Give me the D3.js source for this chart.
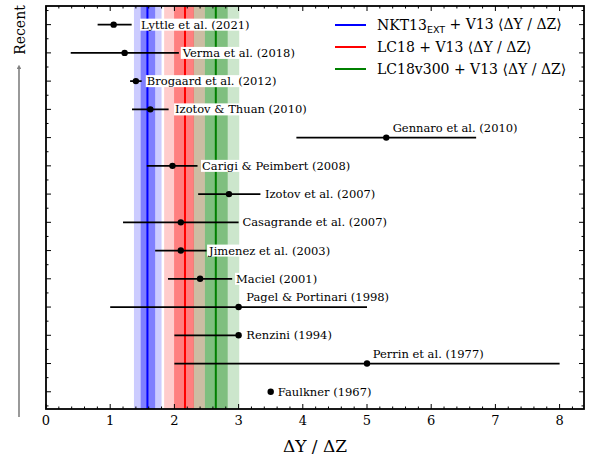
<!DOCTYPE html>
<html>
<head>
<meta charset="utf-8">
<script src="https://cdn.jsdelivr.net/npm/d3@7"></script>
<style>
  html, body { margin: 0; padding: 0; background: #fff; }
  svg { display: block; font-family: "DejaVu Serif", serif; }
</style>
</head>
<body>
<svg id="chart" width="596" height="463"></svg>
<script>
// Helium-to-metal enrichment ratio estimates, oldest (bottom) to most recent (top)
const studies = [
  "Faulkner (1967)", "Perrin et al. (1977)", "Renzini (1994)",
  "Pagel & Portinari (1998)", "Maciel (2001)", "Jimenez et al. (2003)",
  "Casagrande et al. (2007)", "Izotov et al. (2007)", "Carigi & Peimbert (2008)",
  "Gennaro et al. (2010)", "Izotov & Thuan (2010)", "Brogaard et al. (2012)",
  "Verma et al. (2018)", "Lyttle et al. (2021)"
];
const dydz     = [3.5, 5.0, 3.0, 3.0, 2.4, 2.1, 2.1, 2.85, 1.97, 5.3, 1.625, 1.4, 1.225, 1.054];
const errLow   = [0,   3.0, 1.0, 2.0, 0.5, 0.4, 0.9, 0.48, 0.40, 1.4, 0.285, 0.09, 0.84, 0.25];
const errHigh  = [0,   3.0, 0.0, 2.0, 0.5, 0.4, 0.9, 0.49, 0.39, 1.4, 0.285, 0.09, 0.845, 0.28];
// annotation anchor (ΔY/ΔZ units) and whether the note sits above the bar
const labelX     = [3.61, 5.09, 3.12, 3.12, 2.96, 2.54, 3.06, 3.41, 2.43, 5.40, 2.01, 1.57, 2.13, 1.48];
const labelAbove = [false, true, false, true, false, false, false, false, false, true, false, false, false, false];

// Model predictions: mean with 1σ and 2σ intervals
const models     = ["NKT13", "LC18", "LC18v300"];
const modelMean  = [1.58, 2.165, 2.645];
const model1Lo   = [1.475, 1.995, 2.475];
const model1Hi   = [1.70, 2.305, 2.83];
const model2Lo   = [1.37, 1.84, 2.30];
const model2Hi   = [1.80, 2.475, 3.01];
const modelColor = ["#0000ff", "#ff0000", "#008000"];

const xTicks = [0, 1, 2, 3, 4, 5, 6, 7, 8];

const svg = d3.select("#chart");
const box = { left: 46, right: 584, top: 6, bottom: 409 };

const x = d3.scaleLinear().domain([0, 8.38]).range([box.left, box.right]);
const y = d3.scaleLinear().domain([-0.61, 13.66]).range([box.bottom, box.top]);

// shaded intervals
const bands = svg.append("g");
models.forEach((m, i) => {
  bands.append("rect")
    .attr("x", x(model2Lo[i])).attr("width", x(model2Hi[i]) - x(model2Lo[i]))
    .attr("y", box.top).attr("height", box.bottom - box.top)
    .attr("fill", modelColor[i]).attr("fill-opacity", 0.2);
  bands.append("rect")
    .attr("x", x(model1Lo[i])).attr("width", x(model1Hi[i]) - x(model1Lo[i]))
    .attr("y", box.top).attr("height", box.bottom - box.top)
    .attr("fill", modelColor[i]).attr("fill-opacity", 0.375);
});
models.forEach((m, i) => {
  bands.append("line")
    .attr("x1", x(modelMean[i])).attr("x2", x(modelMean[i]))
    .attr("y1", box.top).attr("y2", box.bottom)
    .attr("stroke", modelColor[i]).attr("stroke-width", 2);
});

// error bars and points
const idx = d3.range(studies.length);
const pts = svg.append("g");
pts.selectAll("line.err").data(idx.filter(i => errLow[i] + errHigh[i] > 0)).join("line")
  .attr("class", "err")
  .attr("x1", i => x(dydz[i] - errLow[i])).attr("x2", i => x(dydz[i] + errHigh[i]))
  .attr("y1", i => y(i)).attr("y2", i => y(i))
  .attr("stroke", "#000").attr("stroke-width", 1.8);
pts.selectAll("circle").data(idx).join("circle")
  .attr("cx", i => x(dydz[i])).attr("cy", i => y(i)).attr("r", 3.2)
  .attr("fill", "#000");

// study notes with white backing
const notes = svg.append("g").attr("font-size", 11.5);
idx.forEach(i => {
  const g = notes.append("g");
  const ty = labelAbove[i] ? y(i + 0.35) : y(i);
  const t = g.append("text")
    .attr("x", x(labelX[i])).attr("y", ty)
    .attr("dy", "0.35em").attr("fill", "#000")
    .text(studies[i]);
  const bb = t.node().getBBox();
  g.insert("rect", "text")
    .attr("x", bb.x - 1).attr("y", bb.y + 1)
    .attr("width", bb.width + 2).attr("height", bb.height - 2)
    .attr("fill", "#fff");
});

// ticks (inward on all four sides)
const ticks = svg.append("g").attr("stroke", "#000").attr("stroke-width", 1);
const xMinor = d3.range(0, 8.39, 0.2).filter(v => Math.abs(v - Math.round(v)) > 1e-6);
xTicks.forEach(v => {
  ticks.append("line").attr("x1", x(v)).attr("x2", x(v)).attr("y1", box.bottom).attr("y2", box.bottom - 5);
  ticks.append("line").attr("x1", x(v)).attr("x2", x(v)).attr("y1", box.top).attr("y2", box.top + 5);
});
xMinor.forEach(v => {
  ticks.append("line").attr("x1", x(v)).attr("x2", x(v)).attr("y1", box.bottom).attr("y2", box.bottom - 2.5);
  ticks.append("line").attr("x1", x(v)).attr("x2", x(v)).attr("y1", box.top).attr("y2", box.top + 2.5);
});
idx.forEach(i => {
  ticks.append("line").attr("x1", box.left).attr("x2", box.left + 5).attr("y1", y(i)).attr("y2", y(i));
  ticks.append("line").attr("x1", box.right).attr("x2", box.right - 5).attr("y1", y(i)).attr("y2", y(i));
});
d3.range(-0.5, 13.6, 1).forEach(v => {
  ticks.append("line").attr("x1", box.left).attr("x2", box.left + 2.5).attr("y1", y(v)).attr("y2", y(v));
  ticks.append("line").attr("x1", box.right).attr("x2", box.right - 2.5).attr("y1", y(v)).attr("y2", y(v));
});

// frame
svg.append("rect")
  .attr("x", box.left).attr("y", box.top)
  .attr("width", box.right - box.left).attr("height", box.bottom - box.top)
  .attr("fill", "none").attr("stroke", "#000").attr("stroke-width", 1.8);

// x tick labels
svg.append("g").attr("font-size", 13).attr("text-anchor", "middle")
  .selectAll("text").data(xTicks).join("text")
  .attr("x", d => x(d)).attr("y", box.bottom + 16)
  .text(d => d);

// axis title
svg.append("text")
  .attr("x", (box.left + box.right) / 2).attr("y", 452)
  .attr("text-anchor", "middle").attr("font-size", 17)
  .text("ΔY / ΔZ");

// "Recent" arrow on the left
svg.append("defs").append("marker")
  .attr("id", "head").attr("viewBox", "0 0 10 10").attr("refX", 5).attr("refY", 5)
  .attr("markerWidth", 3).attr("markerHeight", 3).attr("orient", "auto")
  .append("path").attr("d", "M0,0 L10,5 L0,10 z").attr("fill", "#808080");
svg.append("line")
  .attr("x1", 19).attr("x2", 19).attr("y1", 417).attr("y2", 67)
  .attr("stroke", "#808080").attr("stroke-width", 1.6)
  .attr("marker-end", "url(#head)");
svg.append("text")
  .attr("transform", "translate(25,30) rotate(-90)")
  .attr("text-anchor", "middle").attr("font-size", 14)
  .text("Recent");

// legend
const legend = svg.append("g").attr("font-size", 14);
const legendTail = " + V13 ⟨ΔY / ΔZ⟩";
models.forEach((m, i) => {
  const ly = 25 + i * 22;
  legend.append("line")
    .attr("x1", 335).attr("x2", 366).attr("y1", ly).attr("y2", ly)
    .attr("stroke", modelColor[i]).attr("stroke-width", 2);
  const t = legend.append("text").attr("x", 377).attr("y", ly).attr("dy", "0.35em");
  t.append("tspan").text(m);
  if (i === 0) {
    t.append("tspan").attr("font-family", "DejaVu Sans, sans-serif").attr("font-size", 9.5)
      .attr("dy", "0.3em").text("EXT");
    t.append("tspan").attr("dy", "-0.3em").text(legendTail);
  } else {
    t.append("tspan").text(legendTail);
  }
});
</script>
</body>
</html>
